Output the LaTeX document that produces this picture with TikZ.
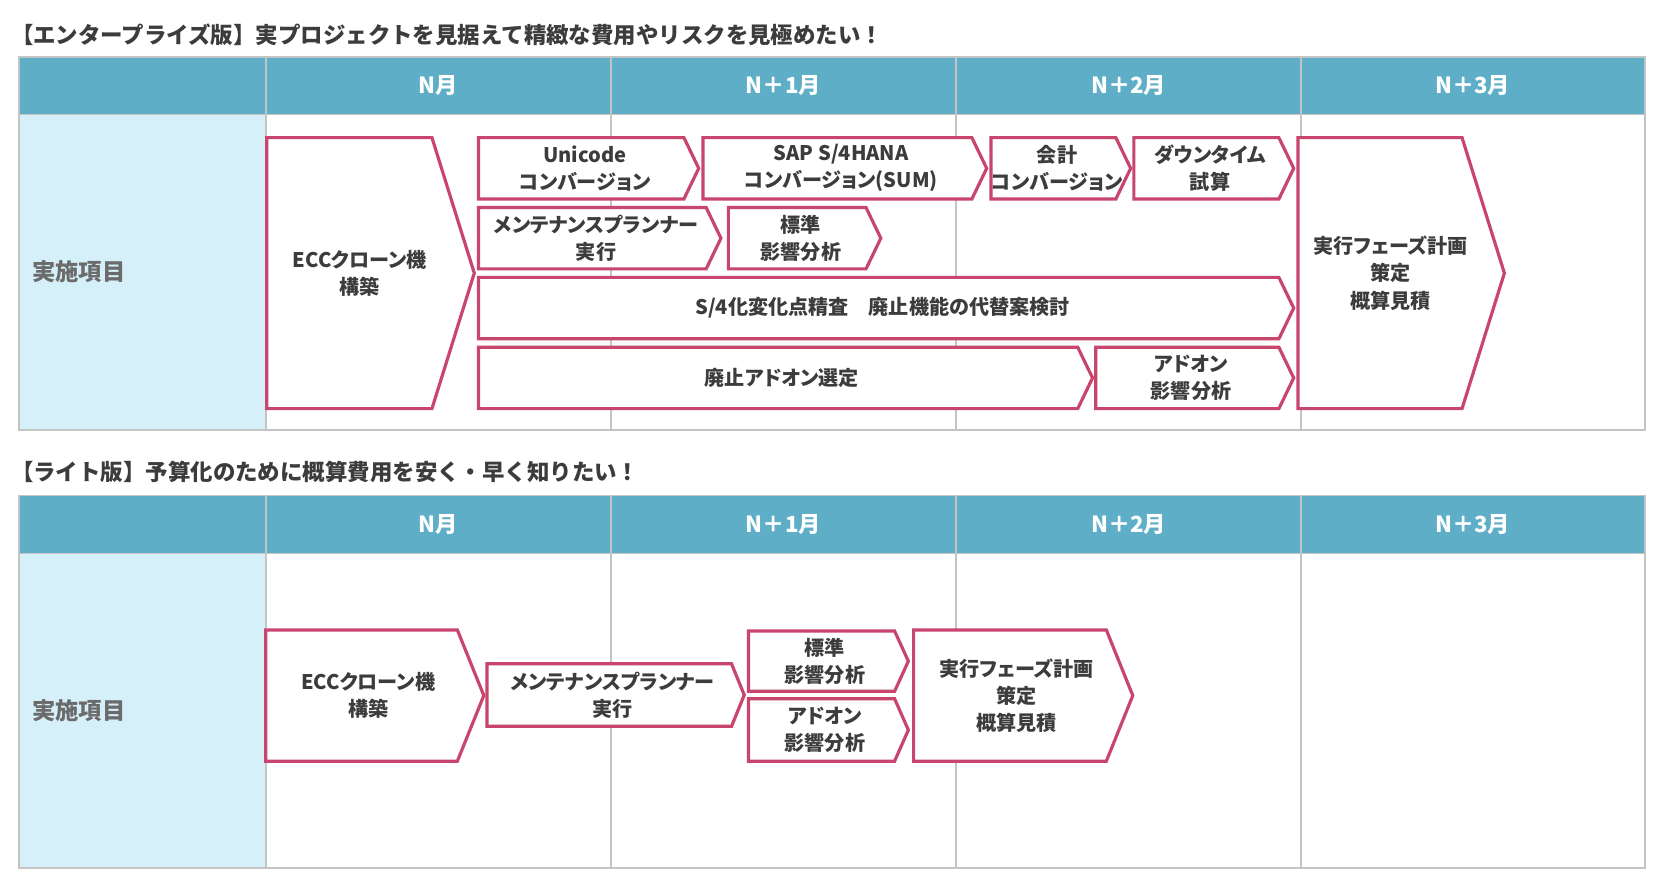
\documentclass[tikz,border=0pt]{standalone}
\usepackage{fontspec}
\setmainfont{Noto Sans CJK JP}[RawFeature=+palt]
\newfontfamily\titlejp{Noto Sans CJK JP}
\usetikzlibrary{positioning}
\definecolor{headteal}{HTML}{5DAEC6}
\definecolor{sidecyan}{HTML}{D5F0F8}
\definecolor{phasered}{HTML}{C8466E}
\definecolor{gridgray}{HTML}{C4C4C4}
\definecolor{inkgray}{HTML}{3C3C3C}
\definecolor{labelgray}{HTML}{6B6B6B}
\tikzset{phase/.style = {draw=phasered, line width=1.5pt, fill=white, line join=miter},
         phasetext/.style = {text=inkgray, align=center, inner sep=0pt,
                             font=\fontsize{9.5}{12.8}\selectfont\bfseries},
         month/.style = {text=white, font=\fontsize{10.5}{12}\selectfont\bfseries},
         rowlabel/.style = {anchor=west, text=labelgray, inner sep=0pt,
                            font=\fontsize{11}{12}\selectfont\bfseries},
         heading/.style = {anchor=west, text=inkgray, inner sep=0pt,
                           font=\titlejp\fontsize{10.6}{12}\selectfont\bfseries}}
% name, x1, y1, x2, y2, tip depth, text
\newcommand{\phasebox}[7]{%
  \draw [phase] (#2,#3) -- (#4-#6,#3) -- (#4,#3/2+#5/2) -- (#4-#6,#5) -- (#2,#5) -- cycle;
  \node [phasetext] (#1) at (#2/2+#4/2-#6/4,#3/2+#5/2) {#7};}

\begin{document}
\begin{tikzpicture}[x=0.5pt, y=-0.5pt]
      \useasboundingbox [fill=white] (0,0) rectangle (1568,834);

      \node [heading] (enttitle) at (10,33) {【エンタープライズ版】実プロジェクトを見据えて精緻な費用やリスクを見極めたい！};
      \node [heading] (lighttitle) at (10,446) {【ライト版】予算化のために概算費用を安く・早く知りたい！};

      \foreach \t/\top/\mid/\bot in {ent/54/108/406, light/468/523/820} {
        \fill [headteal] (18,\top) rectangle (1554,\mid);
        \fill [sidecyan] (18,\mid) rectangle (251,\bot);
        \draw [gridgray, line width=0.75pt] (18,\top) rectangle (1554,\bot);
        \draw [gridgray, line width=0.75pt] (18,\mid) -- (1554,\mid);
        \foreach \x in {251,577,903,1229} {
          \draw [gridgray, line width=0.75pt] (\x,\top) -- (\x,\bot);
        }
        \foreach \i/\x/\lab in {0/414/N月, 1/740/N＋1月, 2/1066/N＋2月, 3/1391/N＋3月} {
          \node [month] (\t-m\i) at (\x,\top/2+\mid/2) {\lab};
        }
        \node [rowlabel] (\t-row) at (30,\mid/2+\bot/2) {実施項目};
      }

      \phasebox{ent-clone}{252}{130}{448}{386}{40}{ECCクローン機\\構築}
      \phasebox{ent-unicode}{452}{130}{660}{188}{14}{Unicode\\コンバージョン}
      \phasebox{ent-sum}{664}{130}{932}{188}{14}{SAP S/4HANA\\コンバージョン(SUM)}
      \phasebox{ent-acct}{936}{130}{1068}{188}{14}{会計\\コンバージョン}
      \phasebox{ent-down}{1071}{130}{1222}{188}{14}{ダウンタイム\\試算}
      \phasebox{ent-planner}{452}{196}{681}{254}{14}{メンテナンスプランナー\\実行}
      \phasebox{ent-std}{688}{196}{832}{254}{14}{標準\\影響分析}
      \phasebox{ent-review}{452}{262}{1222}{320}{14}{S/4化変化点精査　廃止機能の代替案検討}
      \phasebox{ent-select}{452}{328}{1032}{386}{14}{廃止アドオン選定}
      \phasebox{ent-addon}{1035}{328}{1222}{386}{14}{アドオン\\影響分析}
      \phasebox{ent-plan}{1226}{130}{1421}{386}{40}{実行フェーズ計画\\策定\\概算見積}

      \phasebox{light-clone}{251}{595}{457}{719}{25}{ECCクローン機\\構築}
      \phasebox{light-planner}{460}{627}{703}{686}{12}{メンテナンスプランナー\\実行}
      \phasebox{light-std}{707}{596}{858}{653}{13}{標準\\影響分析}
      \phasebox{light-addon}{707}{660}{858}{719}{13}{アドオン\\影響分析}
      \phasebox{light-plan}{863}{595}{1070}{719}{25}{実行フェーズ計画\\策定\\概算見積}
\end{tikzpicture}
\end{document}
